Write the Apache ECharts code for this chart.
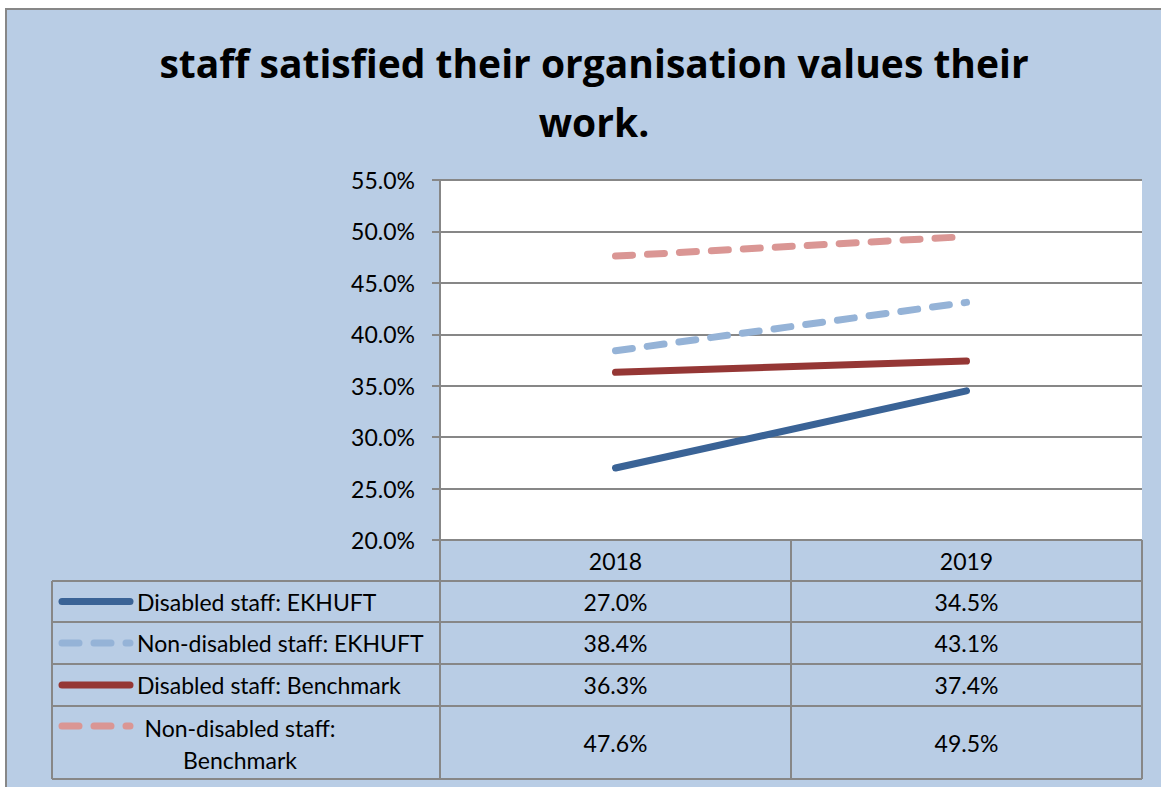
<!DOCTYPE html>
<html>
<head>
<meta charset="utf-8">
<script src="https://cdn.jsdelivr.net/npm/echarts@6/dist/echarts.min.js"></script>
<style>
html, body { margin: 0; padding: 0; background: #fff; }
#main { width: 1161px; height: 787px; }
</style>
</head>
<body>
<div id="main"></div>
<script>
// data
var years = ['2018', '2019'];
var seriesNames = ['Disabled staff: EKHUFT', 'Non-disabled staff: EKHUFT', 'Disabled staff: Benchmark', 'Non-disabled staff:\nBenchmark'];
var disabledEkhuft = [27.0, 34.5];
var nonDisabledEkhuft = [38.4, 43.1];
var disabledBench = [36.3, 37.4];
var nonDisabledBench = [47.6, 49.5];
var yMin = 20, yMax = 55, yStep = 5;

var allValues = [disabledEkhuft, nonDisabledEkhuft, disabledBench, nonDisabledBench];
var lineColors = ['#3A6396', '#95B3D7', '#953735', '#DA9694'];
var dashed = [false, true, false, true];

var FONT = 'Lato, "Open Sans", sans-serif';
var TITLE_FONT = '"Open Sans", Lato, sans-serif';
var FS = 23;
var GRID_COLOR = '#878787';
var BG = '#B9CDE5';

// layout (px)
var gridLeft = 440, gridRight = 1142, gridTop = 180, gridBottom = 540;
var tableLeft = 52;
var rowLines = [581, 622, 664, 706, 779];

var dom = document.getElementById('main');
var myChart = echarts.init(dom, null, { renderer: 'svg' });

function dashStyle(i) {
    return dashed[i] ? [17, 15] : 'solid';
}

var series = [];
for (var i = 0; i < allValues.length; i++) {
    series.push({
        name: seriesNames[i],
        type: 'line',
        data: allValues[i],
        symbol: 'none',
        silent: true,
        lineStyle: {
            color: lineColors[i],
            width: 7,
            type: dashStyle(i),
            cap: 'round'
        }
    });
}

var option = {
    backgroundColor: '#fff',
    animation: false,
    title: {
        text: 'staff satisfied their organisation values their\nwork.',
        left: 589,
        top: 28,
        textAlign: 'center',
        textStyle: {
            fontFamily: TITLE_FONT,
            fontSize: 39,
            fontWeight: 'bold',
            color: '#000',
            lineHeight: 59
        }
    },
    grid: {
        left: gridLeft,
        top: gridTop,
        right: 1161 - gridRight,
        bottom: 787 - gridBottom,
        show: true,
        backgroundColor: '#fff',
        borderWidth: 0,
        containLabel: false
    },
    xAxis: {
        type: 'category',
        data: years,
        boundaryGap: true,
        axisLine: { show: false },
        axisTick: { show: false },
        axisLabel: { show: false },
        splitLine: { show: false }
    },
    yAxis: {
        type: 'value',
        min: yMin,
        max: yMax,
        interval: yStep,
        axisLine: { show: true, lineStyle: { color: GRID_COLOR, width: 2 } },
        axisTick: { show: true, length: 8, lineStyle: { color: GRID_COLOR, width: 2 } },
        axisLabel: {
            margin: 25,
            color: '#000',
            fontFamily: FONT,
            fontSize: FS,
            formatter: function(v) { return v.toFixed(1) + '%'; }
        },
        splitLine: { lineStyle: { color: GRID_COLOR, width: 2 } }
    },
    series: series
};
myChart.setOption(option);

// data table under the plot, columns taken from the category axis
var colCenters = years.map(function(y) { return myChart.convertToPixel({ xAxisIndex: 0 }, y); });
var band = colCenters[1] - colCenters[0];
var colEdges = [colCenters[0] - band / 2, colCenters[0] + band / 2, colCenters[1] + band / 2];

var g = [];
// frame
g.push({ type: 'rect', z: -10, silent: true, shape: { x: 6, y: 9, width: 1300, height: 900 },
    style: { fill: BG, stroke: GRID_COLOR, lineWidth: 2 } });

function hline(y, x1, x2) {
    g.push({ type: 'line', z: 10, silent: true, shape: { x1: x1, y1: y, x2: x2, y2: y },
        style: { stroke: GRID_COLOR, lineWidth: 2 } });
}
function vline(x, y1, y2) {
    g.push({ type: 'line', z: 10, silent: true, shape: { x1: x, y1: y1, x2: x, y2: y2 },
        style: { stroke: GRID_COLOR, lineWidth: 2 } });
}
function txt(x, y, s, align) {
    g.push({ type: 'text', z: 11, silent: true, x: x, y: y,
        style: { text: s, fill: '#000', font: FS + 'px ' + FONT, align: align || 'center',
            verticalAlign: 'middle', lineHeight: 32 } });
}

hline(gridBottom, colEdges[0], colEdges[2]);
rowLines.forEach(function(y) { hline(y, tableLeft, colEdges[2]); });
vline(tableLeft, rowLines[0], rowLines[4]);
colEdges.forEach(function(x) { vline(x, gridBottom, rowLines[4]); });

// header
years.forEach(function(y, j) { txt(colCenters[j], (gridBottom + rowLines[0]) / 2, y); });

for (var r = 0; r < allValues.length; r++) {
    var rowTop = rowLines[r], rowBot = rowLines[r + 1];
    var cy = (rowTop + rowBot) / 2;
    var keyY = r === 3 ? rowTop + 20 : cy;
    var key = { type: 'line', z: 11, silent: true, shape: { x1: 62, y1: keyY, x2: 130, y2: keyY },
        style: { stroke: lineColors[r], lineWidth: 7, lineCap: 'round' } };
    if (dashed[r]) key.style.lineDash = [17, 15];
    g.push(key);
    if (r === 3) {
        txt(240, cy + 1, seriesNames[r], 'center');
    } else {
        txt(137, cy, seriesNames[r], 'left');
    }
    for (var j = 0; j < years.length; j++) {
        txt(colCenters[j], cy, allValues[r][j].toFixed(1) + '%');
    }
}

myChart.setOption({ graphic: g });
</script>
</body>
</html>
